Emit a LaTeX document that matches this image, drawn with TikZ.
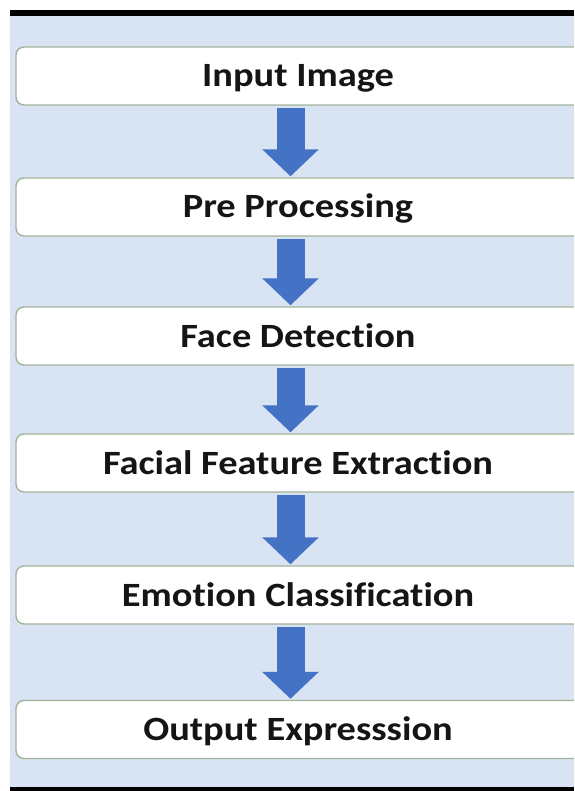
\documentclass[tikz,border=0pt]{standalone}
\usepackage{fontspec}
\setmainfont{Carlito}
\newfontfamily\stepfont[FakeStretch=1.13,Ligatures=NoCommon]{Carlito}
\usetikzlibrary{arrows.meta}
\definecolor{pagebg}{HTML}{D8E3F3}
\definecolor{boxline}{HTML}{A2B497}
\definecolor{flowblue}{HTML}{4472C4}
\definecolor{ink}{HTML}{151515}
\tikzset{
  stepbox/.style={draw=boxline, line width=1.4pt, fill=white, rounded corners=8pt,
    minimum width=570pt, minimum height=58pt, inner sep=0pt, text=ink,
    text height=22pt, text depth=0pt,
    font=\stepfont\fontsize{34}{38}\selectfont\bfseries,
    execute at begin node={\hspace*{-6pt}}},
  flow/.style={draw=flowblue, line width=28pt,
    -{Triangle[length=27pt,width=55pt,fill=flowblue]},
    shorten <=2pt, shorten >=1pt}
}
\begin{document}
\begin{tikzpicture}[x=1pt,y=-1pt]
  \useasboundingbox (0,0) rectangle (574,791);
  \clip (0,0) rectangle (574,791);
  % page frame: top rule, tinted panel, bottom band
  \fill[pagebg] (10,16) rectangle (574,787);
  \fill[black] (10,10) rectangle (574,16);
  \fill[black] (10,787) rectangle (574,791);
  % process steps
  \node[stepbox] (s1) at (301,76) {Input Image};
  \node[stepbox] (s2) at (301,207) {Pre Processing};
  \node[stepbox] (s3) at (301,336) {Face Detection};
  \node[stepbox] (s4) at (301,463) {Facial Feature Extraction};
  \node[stepbox] (s5) at (301,595) {Emotion Classification};
  \node[stepbox] (s6) at (301,729.5) {Output Expresssion};
  % block arrows between steps
  \foreach \a/\b in {s1/s2,s2/s3,s3/s4,s4/s5,s5/s6}
    \draw[flow] ([xshift=-10.5pt]\a.south) -- ([xshift=-10.5pt]\b.north);
\end{tikzpicture}
\end{document}
